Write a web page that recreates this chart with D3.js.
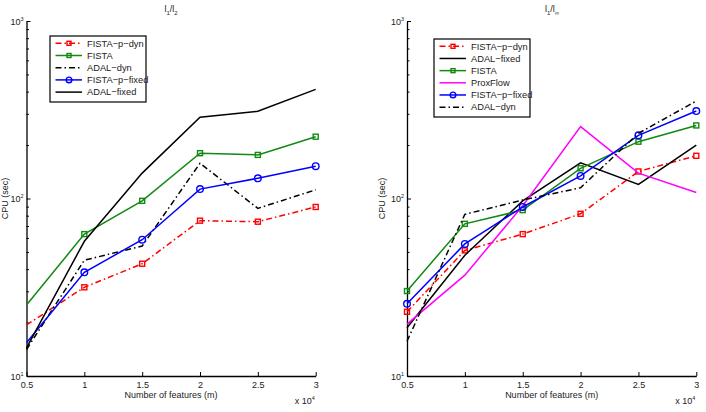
<!DOCTYPE html>
<html>
<head>
<meta charset="utf-8">
<script src="https://cdn.jsdelivr.net/npm/d3@7"></script>
<style>
  body { margin: 0; background: #fff; }
  svg { font-family: "Liberation Sans", Arial, sans-serif; }
</style>
</head>
<body>
<svg id="chart" width="706" height="412"></svg>
<script>
// number of features (x 10^4)
var features = [0.5, 1, 1.5, 2, 2.5, 3];
var xTicks = [0.5, 1, 1.5, 2, 2.5, 3];
var yTicks = [10, 100, 1000];

// l1/l2 panel, CPU seconds
var l2FistaPDyn   = [19.4, 31.6, 42.9, 75, 74, 89.6];
var l2Fista       = [25.1, 63, 97, 180, 176, 223];
var l2AdalDyn     = [14.1, 44.9, 54, 158, 88, 112];
var l2FistaPFixed = [15.4, 38.4, 58.6, 113, 130, 152];
var l2AdalFixed   = [14.4, 57.4, 139, 287, 310, 412];

// l1/linf panel, CPU seconds
var liFistaPDyn   = [23, 51, 63, 82, 142, 174];
var liAdalFixed   = [18.7, 47.9, 97, 159, 120, 200];
var liFista       = [30.1, 72, 86, 148, 209, 258];
var liProxFlow    = [19.6, 37, 91, 254, 139, 108];
var liFistaPFixed = [25.5, 55.5, 89.6, 134, 227, 311];
var liAdalDyn     = [15.7, 81.5, 98, 115, 233, 354];

// line styles
var styles = {
    "FISTA-p-dyn":   {color: "#ff0000", dash: "6,3,1.5,3", marker: "square"},
    "FISTA":         {color: "#108a10", dash: null, marker: "square"},
    "ADAL-dyn":      {color: "#000000", dash: "6,3,1.5,3", marker: null},
    "FISTA-p-fixed": {color: "#0000ff", dash: null, marker: "circle"},
    "ADAL-fixed":    {color: "#000000", dash: null, marker: null},
    "ProxFlow":      {color: "#ff00ff", dash: null, marker: null}
};

var panels = [
    {
        title: ["l", "1", "/l", "2"],
        x0: 26.5, x1: 315.7, titleX: 171,
        yLabelX: 8,
        legend: {x: 50, y: 36, w: 96, h: 66},
        firstMarker: false,
        series: [
            ["FISTA-p-dyn", l2FistaPDyn],
            ["FISTA", l2Fista],
            ["ADAL-dyn", l2AdalDyn],
            ["FISTA-p-fixed", l2FistaPFixed],
            ["ADAL-fixed", l2AdalFixed]
        ]
    },
    {
        title: ["l", "1", "/l", "\u221e"],
        x0: 407, x1: 696.3, titleX: 552,
        yLabelX: 385,
        legend: {x: 434, y: 39, w: 96, h: 78},
        firstMarker: true,
        series: [
            ["FISTA-p-dyn", liFistaPDyn],
            ["ADAL-fixed", liAdalFixed],
            ["FISTA", liFista],
            ["ProxFlow", liProxFlow],
            ["FISTA-p-fixed", liFistaPFixed],
            ["ADAL-dyn", liAdalDyn]
        ]
    }
];

var yTop = 21, yBot = 376;
var fs = 9;
var svg = d3.select("#chart");

function drawMarker(g, type, color, cx, cy, s) {
    if (type == "square") {
        g.append("rect")
            .attr("x", cx - s / 2).attr("y", cy - s / 2)
            .attr("width", s).attr("height", s)
            .attr("fill", "none").attr("stroke", color).attr("stroke-width", 1.4);
    } else if (type == "circle") {
        g.append("circle")
            .attr("cx", cx).attr("cy", cy).attr("r", s / 2 + 0.8)
            .attr("fill", "none").attr("stroke", color).attr("stroke-width", 1.4);
    }
}

panels.forEach(function(p) {
    var x = d3.scaleLinear().domain([0.5, 3]).range([p.x0, p.x1]);
    var y = d3.scaleLog().domain([10, 1000]).range([yBot, yTop]);
    var g = svg.append("g");

    // axes (ticks point inward like matlab)
    var xAxis = d3.axisBottom(x).tickValues(xTicks).tickSizeInner(-4).tickSizeOuter(0)
        .tickFormat(function(d) { return d; });
    var gx = g.append("g").attr("transform", "translate(0," + yBot + ")").call(xAxis);
    gx.select(".domain").attr("stroke-width", 1.3);
    gx.selectAll("text").attr("font-size", fs).attr("fill", "#222").attr("dy", 0).attr("y", 12);

    var minor = [];
    for (var e = 10; e < 1000; e *= 10) {
        for (var k = 2; k <= 9; k++) minor.push(e * k);
    }
    var yAxisMinor = d3.axisLeft(y).tickValues(minor).tickSizeInner(-2.5).tickSizeOuter(0).tickFormat("");
    var gyMinor = g.append("g").attr("transform", "translate(" + p.x0 + ",0)").call(yAxisMinor);
    gyMinor.select(".domain").remove();

    var yAxis = d3.axisLeft(y).tickValues(yTicks).tickSizeInner(-4).tickSizeOuter(0).tickFormat("");
    var gy = g.append("g").attr("transform", "translate(" + p.x0 + ",0)").call(yAxis);
    gy.select(".domain").attr("stroke-width", 1.3);

    // y tick labels 10^n
    yTicks.forEach(function(v) {
        var t = g.append("text")
            .attr("x", p.x0 - 3).attr("y", y(v) + 3.5)
            .attr("text-anchor", "end").attr("font-size", fs).attr("fill", "#222");
        t.append("tspan").text("10");
        t.append("tspan").attr("dy", -4).attr("font-size", 5.5).text(Math.round(Math.log10(v)));
    });

    // x label and multiplier
    g.append("text")
        .attr("x", (p.x0 + p.x1) / 2).attr("y", 398)
        .attr("text-anchor", "middle").attr("font-size", fs).attr("fill", "#222")
        .text("Number of features (m)");
    var mult = g.append("text")
        .attr("x", p.x1 - 21).attr("y", 404)
        .attr("font-size", fs).attr("fill", "#222");
    mult.append("tspan").text("x 10");
    mult.append("tspan").attr("dy", -4).attr("font-size", 5.5).text("4");

    // y label
    g.append("text")
        .attr("transform", "translate(" + p.yLabelX + "," + y(100) + ") rotate(-90)")
        .attr("text-anchor", "middle").attr("font-size", fs).attr("fill", "#222")
        .text("CPU (sec)");

    // title with subscripts
    var tt = g.append("text")
        .attr("x", p.titleX).attr("y", 12)
        .attr("text-anchor", "middle").attr("font-size", fs).attr("fill", "#222");
    tt.append("tspan").text(p.title[0]);
    tt.append("tspan").attr("dy", 3).attr("font-size", 6).text(p.title[1]);
    tt.append("tspan").attr("dy", -3).text(p.title[2]);
    tt.append("tspan").attr("dy", 3).attr("font-size", 6).text(p.title[3]);

    // series
    var line = d3.line()
        .x(function(d, i) { return x(features[i]); })
        .y(function(d) { return y(d); });

    p.series.forEach(function(s) {
        var st = styles[s[0]];
        g.append("path")
            .datum(s[1])
            .attr("d", line)
            .attr("fill", "none")
            .attr("stroke", st.color)
            .attr("stroke-width", 1.5)
            .attr("stroke-dasharray", st.dash);
        if (st.marker) {
            s[1].forEach(function(v, i) {
                if (i == 0 && !p.firstMarker) return;
                drawMarker(g, st.marker, st.color, x(features[i]), y(v), 5);
            });
        }
    });

    // legend
    var L = p.legend;
    var lg = g.append("g");
    lg.append("rect")
        .attr("x", L.x).attr("y", L.y).attr("width", L.w).attr("height", L.h)
        .attr("fill", "#fff").attr("stroke", "#000").attr("stroke-width", 1.2);
    var rowH = (L.h - 5) / p.series.length;
    p.series.forEach(function(s, i) {
        var st = styles[s[0]];
        var cy = L.y + 7.3 + i * rowH;
        lg.append("line")
            .attr("x1", L.x + 5.5).attr("x2", L.x + 32)
            .attr("y1", cy).attr("y2", cy)
            .attr("stroke", st.color).attr("stroke-width", 1.5)
            .attr("stroke-dasharray", st.dash);
        if (st.marker) drawMarker(lg, st.marker, st.color, L.x + 19, cy, 4);
        lg.append("text")
            .attr("x", L.x + 37).attr("y", cy + 3.2)
            .attr("font-size", 9.3).attr("fill", "#222")
            .text(s[0].replace(/-/g, "\u2212"));
    });
});
</script>
</body>
</html>
